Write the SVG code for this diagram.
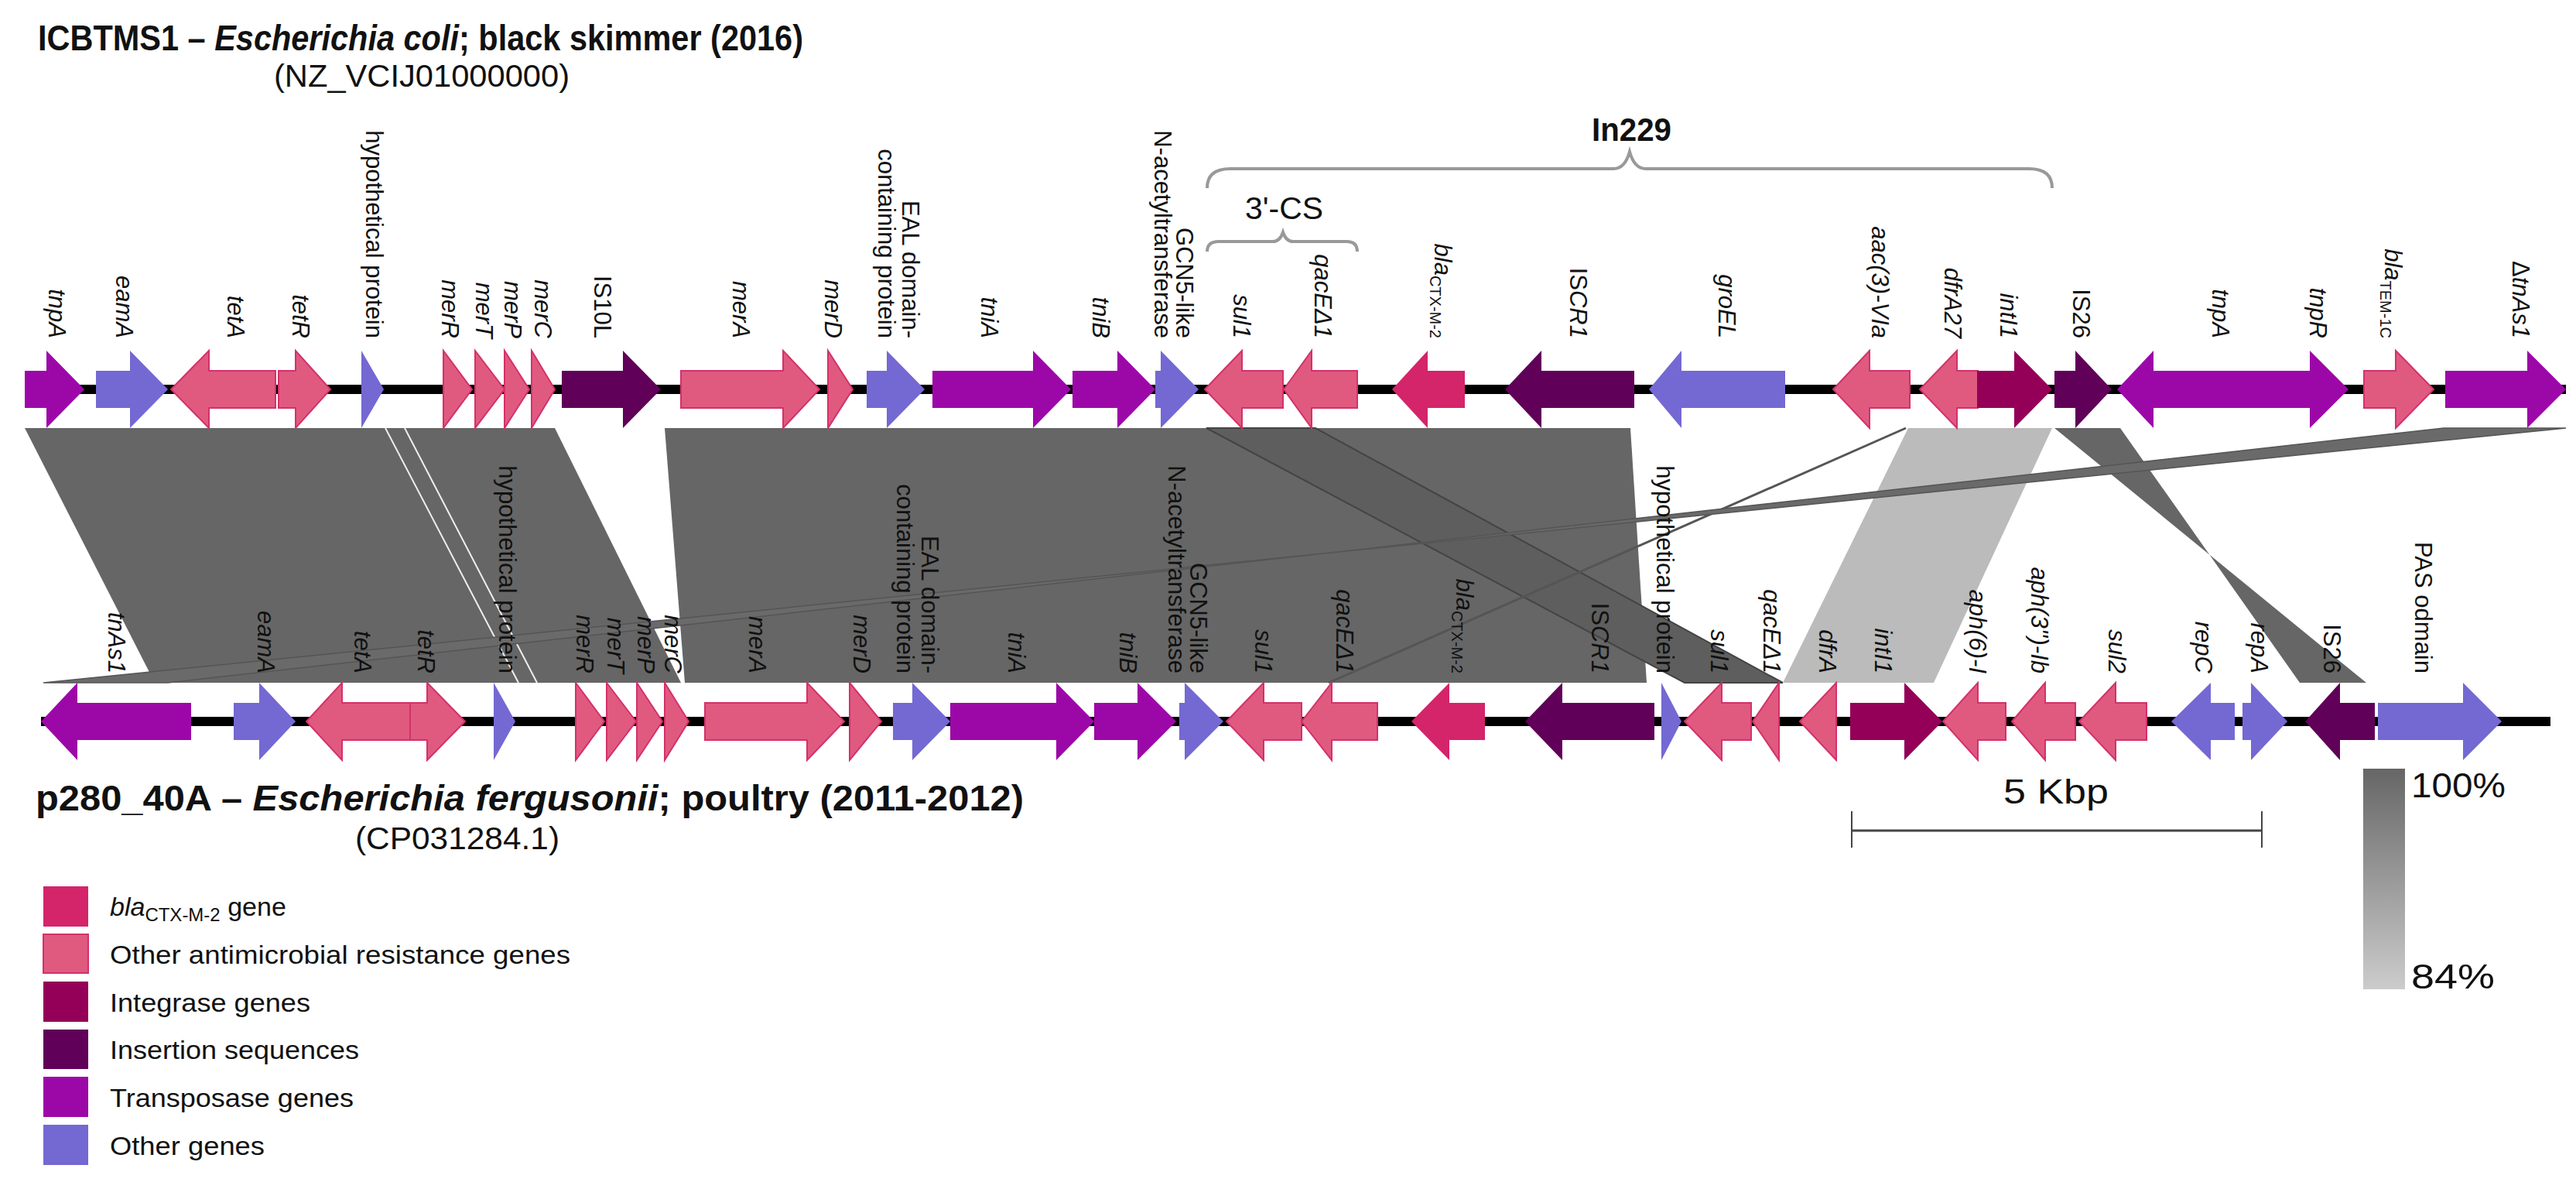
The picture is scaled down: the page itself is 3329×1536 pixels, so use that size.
<svg xmlns="http://www.w3.org/2000/svg" width="3329" height="1536" viewBox="0 0 3329 1536">
<style>
text{font-family:"Liberation Sans",Arial,sans-serif;fill:#111}
.lb{font-size:31px;text-anchor:end}
.i{font-style:italic}
.sub{font-size:20px}
.tp{fill:#9C08A8}
.ot{fill:#7468D3}
.am{fill:#E05A80;stroke:#D4306A;stroke-width:2}
.bl{fill:#D4246A}
.ig{fill:#940058}
.is{fill:#600058}
.bb{stroke:#000;stroke-width:12}
.hd{fill:#666}
.hl{fill:#BBB}
.hx{fill:#5E5E5E;stroke:#444;stroke-width:2}
.ttl{font-size:46px;font-weight:bold}
.sb{font-size:40px}
.lg{font-size:34px}
.br{fill:none;stroke:#999;stroke-width:4}
</style>
<defs>
<linearGradient id="gr" x1="0" y1="0" x2="0" y2="1"><stop offset="0" stop-color="#666"/><stop offset="1" stop-color="#CCC"/></linearGradient>
</defs>

<g id="titles">
<text class="ttl" x="49" y="65" textLength="989" lengthAdjust="spacingAndGlyphs">ICBTMS1 – <tspan class="i">Escherichia coli</tspan>; black skimmer (2016)</text>
<text class="sb" x="354" y="112" textLength="382" lengthAdjust="spacingAndGlyphs">(NZ_VCIJ01000000)</text>
<text class="ttl" x="46" y="1047" textLength="1277" lengthAdjust="spacingAndGlyphs">p280_40A – <tspan class="i">Escherichia fergusonii</tspan>; poultry (2011-2012)</text>
<text class="sb" x="459" y="1097" textLength="264" lengthAdjust="spacingAndGlyphs">(CP031284.1)</text>
</g>

<g id="connectors">
<polygon class="hd" points="32,553 717,553 880,882 200,882"/>
<line x1="498" y1="553" x2="670" y2="882" stroke="#eee" stroke-width="2"/>
<line x1="523" y1="553" x2="694" y2="882" stroke="#eee" stroke-width="2"/>
<polygon class="hd" points="859,553 2107,553 2128,882 885,882"/>
<polygon class="hx" points="1559,553 1700,553 2304,882 2177,882"/>
<polygon class="hl" points="2466,553 2652,553 2499,882 2304,882"/>
<line x1="2463" y1="553" x2="1717" y2="882" stroke="#555" stroke-width="3"/>
<polygon class="hd" points="2655,553 2740,553 2972,882 3058,882"/>
<polygon fill="#6a6a6a" stroke="#555" stroke-width="1.5" points="3158,553 3316,553 56,882 217,882"/>
</g>

<g id="backbones">
<line class="bb" x1="32" y1="503" x2="3316" y2="503"/>
<line class="bb" x1="53" y1="932" x2="3296" y2="932"/>
</g>

<g id="top-genes">
<polygon id="t-tnpA" class="tp" points="32,479 60,479 60,453 109,503 60,553 60,527 32,527"/>
<polygon id="t-eamA" class="ot" points="124,479 168,479 168,453 217,503 168,553 168,527 124,527"/>
<polygon id="t-tetA" class="am" points="221,503 270,453 270,479 356,479 356,527 270,527 270,553"/>
<polygon id="t-tetR" class="am" points="360,479 382,479 382,453 427,503 382,553 382,527 360,527"/>
<polygon id="t-hyp" class="ot" points="467,453 496,503 467,553"/>
<polygon id="t-merR" class="am" points="573,453 610,503 573,553"/>
<polygon id="t-merT" class="am" points="614,453 652,503 614,553"/>
<polygon id="t-merP" class="am" points="652,453 684,503 652,553"/>
<polygon id="t-merC" class="am" points="687,453 717,503 687,553"/>
<polygon id="t-IS10L" class="is" points="726,479 805,479 805,453 854,503 805,553 805,527 726,527"/>
<polygon id="t-merA" class="am" points="880,479 1012,479 1012,453 1059,503 1012,553 1012,527 880,527"/>
<polygon id="t-merD" class="am" points="1070,453 1102,503 1070,553"/>
<polygon id="t-EAL" class="ot" points="1120,479 1146,479 1146,453 1195,503 1146,553 1146,527 1120,527"/>
<polygon id="t-tniA" class="tp" points="1205,479 1335,479 1335,453 1384,503 1335,553 1335,527 1205,527"/>
<polygon id="t-tniB" class="tp" points="1386,479 1444,479 1444,453 1493,503 1444,553 1444,527 1386,527"/>
<polygon id="t-GCN5" class="ot" points="1493,479 1500,479 1500,453 1549,503 1500,553 1500,527 1493,527"/>
<polygon id="t-sul1" class="am" points="1557,503 1605,453 1605,479 1658,479 1658,527 1605,527 1605,553"/>
<polygon id="t-qacE" class="am" points="1659,503 1695,453 1695,479 1754,479 1754,527 1695,527 1695,553"/>
<polygon id="t-blaCTX" class="bl" points="1799,503 1845,453 1845,479 1893,479 1893,527 1845,527 1845,553"/>
<polygon id="t-ISCR1" class="is" points="1945,503 1992,453 1992,479 2112,479 2112,527 1992,527 1992,553"/>
<polygon id="t-groEL" class="ot" points="2131,503 2173,453 2173,479 2307,479 2307,527 2173,527 2173,553"/>
<polygon id="t-aac" class="am" points="2369,503 2416,453 2416,479 2468,479 2468,527 2416,527 2416,553"/>
<polygon id="t-dfrA27" class="am" points="2481,503 2529,453 2529,479 2556,479 2556,527 2529,527 2529,553"/>
<polygon id="t-intI1" class="ig" points="2555,479 2603,479 2603,453 2652,503 2603,553 2603,527 2555,527"/>
<polygon id="t-IS26" class="is" points="2655,479 2682,479 2682,453 2729,503 2682,553 2682,527 2655,527"/>
<polygon id="t-tnpA2" class="tp" points="2736,503 2783,453 2783,479 2967,479 2967,527 2783,527 2783,553"/>
<polygon id="t-tnpR" class="tp" points="2967,479 2985,479 2985,453 3035,503 2985,553 2985,527 2967,527"/>
<polygon id="t-blaTEM" class="am" points="3055,479 3096,479 3096,453 3145,503 3096,553 3096,527 3055,527"/>
<polygon id="t-tnAs1" class="tp" points="3160,479 3266,479 3266,453 3316,503 3266,553 3266,527 3160,527"/>
</g>

<g id="bottom-genes">
<polygon id="b-tnAs1" class="tp" points="53,932 100,882 100,908 247,908 247,956 100,956 100,982"/>
<polygon id="b-eamA" class="ot" points="302,908 335,908 335,882 382,932 335,982 335,956 302,956"/>
<polygon id="b-tetA" class="am" points="396,932 442,882 442,908 530,908 530,956 442,956 442,982"/>
<polygon id="b-tetR" class="am" points="530,908 552,908 552,882 601,932 552,982 552,956 530,956"/>
<polygon id="b-hyp" class="ot" points="638,882 666,932 638,982"/>
<polygon id="b-merR" class="am" points="744,882 781,932 744,982"/>
<polygon id="b-merT" class="am" points="784,882 822,932 784,982"/>
<polygon id="b-merP" class="am" points="823,882 856,932 823,982"/>
<polygon id="b-merC" class="am" points="859,882 890,932 859,982"/>
<polygon id="b-merA" class="am" points="911,908 1043,908 1043,882 1091,932 1043,982 1043,956 911,956"/>
<polygon id="b-merD" class="am" points="1098,882 1139,932 1098,982"/>
<polygon id="b-EAL" class="ot" points="1154,908 1179,908 1179,882 1228,932 1179,982 1179,956 1154,956"/>
<polygon id="b-tniA" class="tp" points="1228,908 1365,908 1365,882 1414,932 1365,982 1365,956 1228,956"/>
<polygon id="b-tniB" class="tp" points="1414,908 1470,908 1470,882 1520,932 1470,982 1470,956 1414,956"/>
<polygon id="b-GCN5" class="ot" points="1524,908 1531,908 1531,882 1581,932 1531,982 1531,956 1524,956"/>
<polygon id="b-sul1" class="am" points="1585,932 1633,882 1633,908 1682,908 1682,956 1633,956 1633,982"/>
<polygon id="b-qacE" class="am" points="1682,932 1721,882 1721,908 1780,908 1780,956 1721,956 1721,982"/>
<polygon id="b-blaCTX" class="bl" points="1824,932 1873,882 1873,908 1919,908 1919,956 1873,956 1873,982"/>
<polygon id="b-ISCR1" class="is" points="1971,932 2019,882 2019,908 2138,908 2138,956 2019,956 2019,982"/>
<polygon id="b-hyp2" class="ot" points="2147,882 2173,932 2147,982"/>
<polygon id="b-sul1b" class="am" points="2177,932 2225,882 2225,908 2263,908 2263,956 2225,956 2225,982"/>
<polygon id="b-qacEb" class="am" points="2265,932 2299,882 2299,982"/>
<polygon id="b-dfrA" class="am" points="2326,932 2373,882 2373,982"/>
<polygon id="b-intI1" class="ig" points="2391,908 2461,908 2461,882 2510,932 2461,982 2461,956 2391,956"/>
<polygon id="b-aph6" class="am" points="2511,932 2556,882 2556,908 2592,908 2592,956 2556,956 2556,982"/>
<polygon id="b-aph3" class="am" points="2600,932 2643,882 2643,908 2682,908 2682,956 2643,956 2643,982"/>
<polygon id="b-sul2" class="am" points="2687,932 2734,882 2734,908 2774,908 2774,956 2734,956 2734,982"/>
<polygon id="b-repC" class="ot" points="2806,932 2857,882 2857,908 2888,908 2888,956 2857,956 2857,982"/>
<polygon id="b-repA" class="ot" points="2898,908 2909,908 2909,882 2956,932 2909,982 2909,956 2898,956"/>
<polygon id="b-IS26" class="is" points="2979,932 3024,882 3024,908 3069,908 3069,956 3024,956 3024,982"/>
<polygon id="b-PAS" class="ot" points="3073,908 3183,908 3183,882 3233,932 3183,982 3183,956 3073,956"/>
</g>

<g id="top-labels" class="lb">
<text class="lb i" transform="translate(63,437) rotate(90)">tnpA</text>
<text class="lb i" transform="translate(150,437) rotate(90)">eamA</text>
<text class="lb i" transform="translate(294,437) rotate(90)">tetA</text>
<text class="lb i" transform="translate(378,437) rotate(90)">tetR</text>
<text class="lb" transform="translate(473,437) rotate(90)">hypothetical protein</text>
<text class="lb i" transform="translate(571,437) rotate(90)">merR</text>
<text class="lb i" transform="translate(615,437) rotate(90)">merT</text>
<text class="lb i" transform="translate(652,437) rotate(90)">merP</text>
<text class="lb i" transform="translate(691,437) rotate(90)">merC</text>
<text class="lb" transform="translate(768,437) rotate(90)">IS10L</text>
<text class="lb i" transform="translate(947,437) rotate(90)">merA</text>
<text class="lb i" transform="translate(1066,437) rotate(90)">merD</text>
<text class="lb" transform="translate(1166,437) rotate(90)">EAL domain-</text>
<text class="lb" transform="translate(1135,437) rotate(90)">containing protein</text>
<text class="lb i" transform="translate(1268,437) rotate(90)">tniA</text>
<text class="lb i" transform="translate(1412,437) rotate(90)">tniB</text>
<text class="lb" transform="translate(1520,437) rotate(90)">GCN5-like</text>
<text class="lb" transform="translate(1492,437) rotate(90)">N-acetyltransferase</text>
<text class="lb i" transform="translate(1594,437) rotate(90)">sul1</text>
<text class="lb i" transform="translate(1699,437) rotate(90)">qacEΔ1</text>
<text class="lb" transform="translate(1854,437) rotate(90)"><tspan class="i">bla</tspan><tspan class="sub" dy="6">CTX-M-2</tspan></text>
<text class="lb" transform="translate(2029,437) rotate(90)">IS<tspan class="i">CR1</tspan></text>
<text class="lb i" transform="translate(2221,437) rotate(90)">groEL</text>
<text class="lb i" transform="translate(2419,437) rotate(90)">aac(3)-VIa</text>
<text class="lb i" transform="translate(2513,437) rotate(90)">dfrA27</text>
<text class="lb i" transform="translate(2585,437) rotate(90)">intI1</text>
<text class="lb" transform="translate(2679,437) rotate(90)">IS26</text>
<text class="lb i" transform="translate(2859,437) rotate(90)">tnpA</text>
<text class="lb i" transform="translate(2985,437) rotate(90)">tnpR</text>
<text class="lb" transform="translate(3082,437) rotate(90)"><tspan class="i">bla</tspan><tspan class="sub" dy="6">TEM-1C</tspan></text>
<text class="lb" transform="translate(3247,437) rotate(90)">Δ<tspan class="i">tnAs1</tspan></text>
</g>

<g id="bottom-labels">
<text class="lb i" transform="translate(140,870) rotate(90)">tnAs1</text>
<text class="lb i" transform="translate(333,870) rotate(90)">eamA</text>
<text class="lb i" transform="translate(458,870) rotate(90)">tetA</text>
<text class="lb i" transform="translate(540,870) rotate(90)">tetR</text>
<text class="lb" transform="translate(645,870) rotate(90)">hypothetical protein</text>
<text class="lb i" transform="translate(745,870) rotate(90)">merR</text>
<text class="lb i" transform="translate(785,870) rotate(90)">merT</text>
<text class="lb i" transform="translate(824,870) rotate(90)">merP</text>
<text class="lb i" transform="translate(859,870) rotate(90)">merC</text>
<text class="lb i" transform="translate(968,870) rotate(90)">merA</text>
<text class="lb i" transform="translate(1103,870) rotate(90)">merD</text>
<text class="lb" transform="translate(1191,870) rotate(90)">EAL domain-</text>
<text class="lb" transform="translate(1159,870) rotate(90)">containing protein</text>
<text class="lb i" transform="translate(1303,870) rotate(90)">tniA</text>
<text class="lb i" transform="translate(1447,870) rotate(90)">tniB</text>
<text class="lb" transform="translate(1538,870) rotate(90)">GCN5-like</text>
<text class="lb" transform="translate(1510,870) rotate(90)">N-acetyltransferase</text>
<text class="lb i" transform="translate(1622,870) rotate(90)">sul1</text>
<text class="lb i" transform="translate(1727,870) rotate(90)">qacEΔ1</text>
<text class="lb" transform="translate(1882,870) rotate(90)"><tspan class="i">bla</tspan><tspan class="sub" dy="6">CTX-M-2</tspan></text>
<text class="lb" transform="translate(2057,870) rotate(90)">IS<tspan class="i">CR1</tspan></text>
<text class="lb" transform="translate(2141,870) rotate(90)">hypothetical protein</text>
<text class="lb i" transform="translate(2211,870) rotate(90)">sul1</text>
<text class="lb i" transform="translate(2279,870) rotate(90)">qacEΔ1</text>
<text class="lb i" transform="translate(2351,870) rotate(90)">dfrA</text>
<text class="lb i" transform="translate(2423,870) rotate(90)">intI1</text>
<text class="lb i" transform="translate(2545,870) rotate(90)">aph(6)-I</text>
<text class="lb i" transform="translate(2625,870) rotate(90)">aph(3'')-Ib</text>
<text class="lb i" transform="translate(2725,870) rotate(90)">sul2</text>
<text class="lb i" transform="translate(2837,870) rotate(90)">repC</text>
<text class="lb i" transform="translate(2909,870) rotate(90)">repA</text>
<text class="lb" transform="translate(3003,870) rotate(90)">IS26</text>
<text class="lb" transform="translate(3121,870) rotate(90)">PAS odmain</text>
</g>

<g id="brackets">
<path class="br" d="M1560,243 Q1560,218 1590,218 L2085,218 Q2100,218 2106,196 Q2112,218 2127,218 L2622,218 Q2652,218 2652,243"/>
<text x="2057" y="182" font-size="42" font-weight="bold" textLength="103" lengthAdjust="spacingAndGlyphs">In229</text>
<path class="br" d="M1560,325 Q1560,312 1575,312 L1645,312 Q1654,312 1658,300 Q1662,312 1671,312 L1740,312 Q1754,312 1754,325"/>
<text x="1609" y="283" font-size="40" textLength="101" lengthAdjust="spacingAndGlyphs">3'-CS</text>
</g>

<g id="legend">
<rect x="56" y="1145" width="58" height="52" class="bl"/>
<rect x="56" y="1207" width="58" height="50" class="am"/>
<rect x="56" y="1268" width="58" height="52" class="ig"/>
<rect x="56" y="1330" width="58" height="51" class="is"/>
<rect x="56" y="1391" width="58" height="52" class="tp"/>
<rect x="56" y="1453" width="58" height="52" class="ot"/>
<text class="lg" x="142" y="1183"><tspan class="i">bla</tspan><tspan font-size="24" dy="7">CTX-M-2</tspan><tspan dy="-7"> gene</tspan></text>
<text class="lg" x="142" y="1245" textLength="595" lengthAdjust="spacingAndGlyphs">Other antimicrobial resistance genes</text>
<text class="lg" x="142" y="1307" textLength="259" lengthAdjust="spacingAndGlyphs">Integrase genes</text>
<text class="lg" x="142" y="1368" textLength="322" lengthAdjust="spacingAndGlyphs">Insertion sequences</text>
<text class="lg" x="142" y="1430" textLength="315" lengthAdjust="spacingAndGlyphs">Transposase genes</text>
<text class="lg" x="142" y="1492" textLength="200" lengthAdjust="spacingAndGlyphs">Other genes</text>
</g>

<g id="scale">
<line x1="2393" y1="1073" x2="2923" y2="1073" stroke="#444" stroke-width="3"/>
<line x1="2393" y1="1048" x2="2393" y2="1095" stroke="#444" stroke-width="2"/>
<line x1="2923" y1="1048" x2="2923" y2="1095" stroke="#444" stroke-width="2"/>
<text x="2589" y="1038" font-size="44" textLength="136" lengthAdjust="spacingAndGlyphs">5 Kbp</text>
<rect x="3054" y="993" width="54" height="285" fill="url(#gr)"/>
<text x="3116" y="1030" font-size="44" textLength="122" lengthAdjust="spacingAndGlyphs">100%</text>
<text x="3116" y="1277" font-size="44" textLength="108" lengthAdjust="spacingAndGlyphs">84%</text>
</g>
</svg>
